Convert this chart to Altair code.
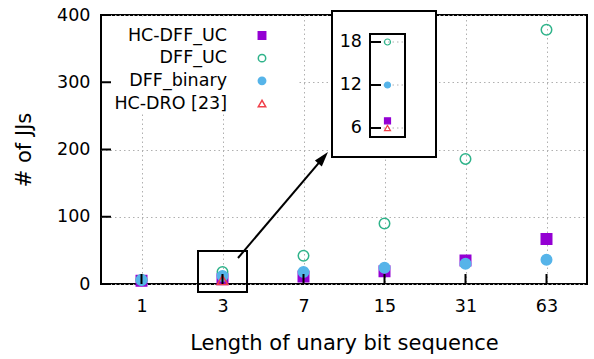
import altair as alt
import pandas as pd

# ---- data -------------------------------------------------------------
lengths = ["1", "3", "7", "15", "31", "63"]
series_names = ["HC-DFF_UC", "DFF_UC", "DFF_binary", "HC-DRO [23]"]
hc_dff_uc = [5, 7, 11, 19, 35, 67]
dff_uc = [6, 18, 42, 90, 186, 378]
dff_binary = [6, 12, 18, 24, 30, 36]
hc_dro_lengths = ["3"]
hc_dro = [6]

y_ticks = [0, 100, 200, 300, 400]
zoom_length = "3"
zoom_ticks = [6, 12, 18]

# ---- style ------------------------------------------------------------
FONT = "DejaVu Sans"
colors = ["#9400D3", "#2FB38A", "#56B4E9", "#F0404A"]
fills = ["#9400D3", "transparent", "#56B4E9", "transparent"]
shapes = ["square", "circle", "circle", "triangle-up"]
W, H = 486, 269

rows = []
for name, xs, ys in [
    (series_names[0], lengths, hc_dff_uc),
    (series_names[1], lengths, dff_uc),
    (series_names[2], lengths, dff_binary),
    (series_names[3], hc_dro_lengths, hc_dro),
]:
    for n, v in zip(xs, ys):
        rows.append({"series": name, "n": n, "jj": v})
df = pd.DataFrame(rows)
one = pd.DataFrame({"k": [0]})


def series_channels():
    return dict(
        shape=alt.Shape("series:N", scale=alt.Scale(domain=series_names, range=shapes), legend=None),
        stroke=alt.Stroke("series:N", scale=alt.Scale(domain=series_names, range=colors), legend=None),
        fill=alt.Fill("series:N", scale=alt.Scale(domain=series_names, range=fills), legend=None),
    )


# ---- main panel -------------------------------------------------------
x_main = alt.X(
    "n:O",
    scale=alt.Scale(type="point", domain=lengths, padding=0.5),
    axis=alt.Axis(
        title="Length of unary bit sequence", labelAngle=0, ticks=False, domain=False,
        labelPadding=13, labelFontSize=17.5, labelFont=FONT, labelColor="black",
        titleFontSize=21, titleFont=FONT, titleFontWeight="normal", titleColor="black",
        titleY=59, titleBaseline="middle",
        grid=True, gridDash=[1.5, 3], gridColor="#b0b0b0",
    ),
)
y_main = alt.Y(
    "jj:Q",
    scale=alt.Scale(domain=[0, 400], nice=False),
    axis=alt.Axis(
        values=y_ticks, title="# of JJs", ticks=False, domain=False,
        labelPadding=11, labelFontSize=17.5, labelFont=FONT, labelColor="black",
        titleFontSize=21, titleFont=FONT, titleFontWeight="normal", titleColor="black",
        titleX=-77, titleY=H / 2, titleAngle=270, titleBaseline="middle", titleAlign="center",
        grid=True, gridDash=[1.5, 3], gridColor="#b0b0b0",
    ),
)

key_backdrop = alt.Chart(one).mark_rect(fill="white").encode(
    x=alt.value(1.5), x2=alt.value(196), y=alt.value(1.5), y2=alt.value(98)
)
points = alt.Chart(df).mark_point(size=110, strokeWidth=1.5, opacity=1, fillOpacity=1).encode(
    x=x_main, y=y_main, **series_channels()
)
y_tick_marks = alt.Chart(pd.DataFrame({"jj": y_ticks})).mark_rule(color="black", strokeWidth=2).encode(
    y="jj:Q", x=alt.value(0), x2=alt.value(10)
)
x_tick_marks = alt.Chart(pd.DataFrame({"n": lengths})).mark_rule(color="black", strokeWidth=2).encode(
    x=alt.X("n:O", scale=alt.Scale(type="point", domain=lengths, padding=0.5)),
    y=alt.value(H), y2=alt.value(H - 10),
)
main = alt.layer(key_backdrop, points, y_tick_marks, x_tick_marks)

# ---- key ---------------------------------------------------------------
key_df = pd.DataFrame({"series": series_names})
key_y = alt.Y("series:N", scale=alt.Scale(type="point", domain=series_names, range=[20.5, 88.5], padding=0), axis=None)
key_text = alt.Chart(key_df).mark_text(
    align="right", baseline="middle", font=FONT, fontSize=17.5, color="black"
).encode(y=key_y, x=alt.value(126), text="series:N")
key_marks = alt.Chart(key_df).mark_point(size=55, strokeWidth=1.5, opacity=1, fillOpacity=1).encode(
    y=key_y, x=alt.value(161), **series_channels()
)
key = alt.layer(key_text, key_marks)

# ---- zoomed inset around length 3 -----------------------------------------
zoom_df = df[df["n"] == zoom_length]
zy = alt.Y("jj:Q", scale=alt.Scale(domain=[6, 18], range=[113, 27], nice=False, zero=False), axis=None)
zx = alt.X("n:N", scale=alt.Scale(type="point", domain=[zoom_length], range=[269, 304], padding=0.5), axis=None)
ztick_df = pd.DataFrame({"jj": zoom_ticks})

inset_frame = alt.Chart(one).mark_rect(fill="white", stroke="black", strokeWidth=2).encode(
    x=alt.value(231), x2=alt.value(335), y=alt.value(-4), y2=alt.value(142)
)
inset_grid = alt.Chart(ztick_df).mark_rule(color="#b0b0b0", strokeDash=[1.5, 3]).encode(
    y=zy, x=alt.value(269), x2=alt.value(304)
)
inset_ticks = alt.Chart(ztick_df).mark_rule(color="black", strokeWidth=2).encode(
    y=zy, x=alt.value(269), x2=alt.value(280)
)
inset_labels = alt.Chart(ztick_df).mark_text(
    align="right", baseline="middle", font=FONT, fontSize=17.5, color="black"
).encode(y=zy, x=alt.value(261), text="jj:Q")
inset_box = alt.Chart(one).mark_rect(fill="transparent", stroke="black", strokeWidth=2).encode(
    x=alt.value(269), x2=alt.value(304), y=alt.value(19), y2=alt.value(122)
)
inset_points = alt.Chart(zoom_df).mark_point(size=36, strokeWidth=1.2, opacity=1, fillOpacity=1).encode(
    x=zx, y=zy, **series_channels()
)
inset = alt.layer(inset_frame, inset_grid, inset_ticks, inset_labels, inset_box, inset_points)

# ---- callout box and arrow ------------------------------------------------
callout_box = alt.Chart(one).mark_rect(fill="transparent", stroke="black", strokeWidth=2).encode(
    x=alt.value(97), x2=alt.value(146), y=alt.value(236), y2=alt.value(277)
)
arrow_shaft = alt.Chart(one).mark_rule(color="black", strokeWidth=2).encode(
    x=alt.value(137), y=alt.value(243), x2=alt.value(223.8), y2=alt.value(140.8)
)
arrow_head = alt.Chart(one).mark_point(
    shape="M0,0L-0.3,1L0.3,1Z", size=900, filled=True, color="black", opacity=1, angle=40
).encode(x=alt.value(227), y=alt.value(137))
callout = alt.layer(callout_box, arrow_shaft, arrow_head)

chart = (
    alt.layer(main, key, inset, callout)
    .resolve_scale(x="independent", y="independent", shape="independent",
                   stroke="independent", fill="independent")
    .properties(
        width=W, height=H,
        autosize=alt.AutoSizeParams(type="none"),
        padding={"left": 101, "top": 15, "right": 7, "bottom": 75},
        background="white",
    )
    .configure_view(stroke="black", strokeWidth=2)
)

chart.save("out.html", embed_options={"renderer": "svg", "actions": False})
